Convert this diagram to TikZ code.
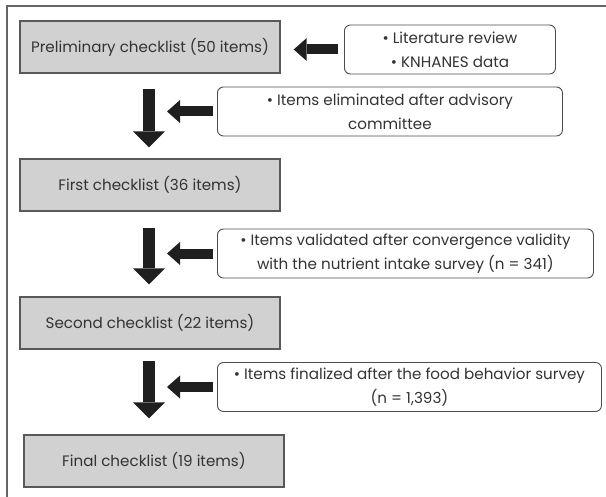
\documentclass[tikz,border=0pt]{standalone}
\usepackage{fontspec}
\setmainfont{Poppins}
\usetikzlibrary{positioning,arrows.meta}

\begin{document}
\begin{tikzpicture} [x=1bp, y=-1bp, node distance = 138bp, on grid,
  font=\fontsize{15.2}{24}\selectfont, text=black!80,
  stage/.style={draw=black!65, line width=1.4bp, fill=black!18, minimum width=260bp, minimum height=52bp},
  note/.style={draw=black!70, line width=0.9bp, rounded corners=6bp, align=center, anchor=west, minimum height=49bp, inner sep=2bp},
  downarrow/.style={color=black!88, line width=12bp, -{Triangle[width=32bp, length=16bp, line width=0pt]}},
  leftarrow/.style={color=black!88, line width=10bp, -{Triangle[width=23bp, length=13bp, line width=0pt]}}]
       \useasboundingbox (0,0) rectangle (606,497);
       \draw[black!60, line width=1.2bp] (606,6) -- (7,6) -- (7,497);
       \node (c0) [stage] at (150,47) {Preliminary checklist (50 items)};
       \node (c1) [stage] [below = of c0] {First checklist (36 items)};
       \node (c2) [stage] [below = of c1] {Second checklist (22 items)};
       \node (c3) [stage] [below = of c2, xshift=4bp] {Final checklist (19 items)};
       \node (s0) [note, minimum width=211bp] at (344,49.5) {• Literature review\\• KNHANES data};
       \node (s1) [note, minimum width=345bp] at (217,111.5) {• Items eliminated after advisory\\committee};
       \node (s2) [note, minimum width=376bp] at (217,253.5) {• Items validated after convergence validity\\with the nutrient intake survey (n = 341)};
       \node (s3) [note, minimum width=384bp] at (217,387) {• Items finalized after the food behavior survey\\(n = 1,393)};
       \coordinate [left = 50bp of s1.west] (t1);
       \coordinate [left = 50bp of s2.west] (t2);
       \coordinate [left = 50bp of s3.west] (t3);
        \path[downarrow]
        ([xshift=-1bp, yshift=-15bp]c0.south) edge ([xshift=-1bp, yshift=11bp]c1.north)
        ([xshift=-1bp, yshift=-16bp]c1.south) edge ([xshift=-1bp, yshift=12bp]c2.north)
        ([xshift=-1bp, yshift=-11bp]c2.south) edge ([xshift=-1bp, yshift=16bp]c2.south |- c3.north);
        \path[leftarrow]
        ([xshift=-6bp]s0.west) edge ([xshift=13bp]c0.east |- s0.west)
        ([xshift=-4bp]s1.west) edge (t1)
        ([xshift=-4bp]s2.west) edge (t2)
        ([xshift=-4bp]s3.west) edge (t3);
     \end{tikzpicture}
\end{document}
